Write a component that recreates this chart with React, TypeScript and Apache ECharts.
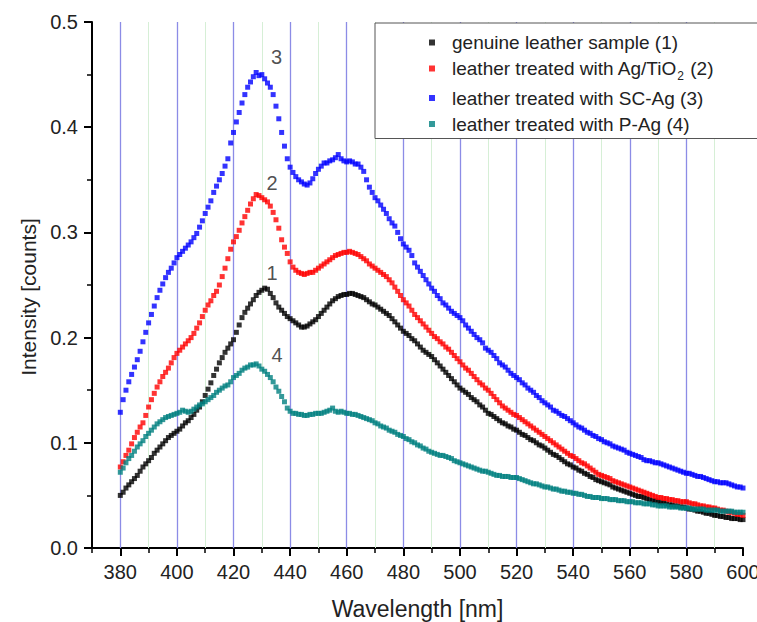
import React, { useEffect, useRef } from "react";
import * as echarts from "echarts";

// Wavelength axis (nm), 1 nm steps from 380 to 600
const wavelengthStart = 380;
const wavelengthStep = 1;

// genuine leather sample (1)
const sample1 = [
  0.050, 0.053, 0.057, 0.060, 0.063, 0.066, 0.069, 0.073, 0.077, 0.080,
  0.083, 0.086, 0.090, 0.093, 0.096, 0.099, 0.102, 0.105, 0.107, 0.109,
  0.111, 0.113, 0.116, 0.119, 0.121, 0.124, 0.127, 0.131, 0.134, 0.139,
  0.145, 0.151, 0.157, 0.164, 0.170, 0.176, 0.181, 0.186, 0.190, 0.194,
  0.198, 0.205, 0.212, 0.219, 0.224, 0.228, 0.232, 0.236, 0.240, 0.243,
  0.245, 0.247, 0.246, 0.242, 0.238, 0.233, 0.229, 0.226, 0.223, 0.220,
  0.218, 0.216, 0.214, 0.212, 0.210, 0.210, 0.211, 0.213, 0.215, 0.217,
  0.220, 0.223, 0.226, 0.229, 0.232, 0.235, 0.237, 0.239, 0.240, 0.241,
  0.241, 0.242, 0.242, 0.241, 0.240, 0.239, 0.238, 0.236, 0.234, 0.232,
  0.231, 0.229, 0.227, 0.225, 0.223, 0.221, 0.218, 0.215, 0.212, 0.209,
  0.206, 0.204, 0.202, 0.199, 0.197, 0.194, 0.191, 0.188, 0.186, 0.184,
  0.182, 0.179, 0.176, 0.173, 0.170, 0.167, 0.164, 0.161, 0.158, 0.155,
  0.152, 0.150, 0.148, 0.146, 0.143, 0.141, 0.139, 0.136, 0.134, 0.131,
  0.128, 0.127, 0.125, 0.123, 0.121, 0.119, 0.118, 0.116, 0.115, 0.113,
  0.112, 0.110, 0.108, 0.107, 0.105, 0.103, 0.102, 0.100, 0.098, 0.097,
  0.095, 0.093, 0.091, 0.089, 0.088, 0.086, 0.084, 0.082, 0.080, 0.079,
  0.077, 0.076, 0.074, 0.073, 0.071, 0.070, 0.068, 0.067, 0.065, 0.064,
  0.063, 0.062, 0.061, 0.060, 0.058, 0.057, 0.056, 0.055, 0.054, 0.053,
  0.052, 0.051, 0.050, 0.049, 0.049, 0.048, 0.047, 0.046, 0.045, 0.045,
  0.044, 0.043, 0.043, 0.042, 0.041, 0.041, 0.040, 0.040, 0.039, 0.039,
  0.038, 0.037, 0.037, 0.036, 0.035, 0.035, 0.034, 0.033, 0.033, 0.032,
  0.031, 0.031, 0.030, 0.030, 0.029, 0.029, 0.028, 0.028, 0.028, 0.027,
  0.027,
];

// leather treated with Ag/TiO2 (2)
const sample2 = [
  0.077, 0.082, 0.088, 0.093, 0.099, 0.105, 0.110, 0.115, 0.119, 0.126,
  0.134, 0.141, 0.147, 0.153, 0.158, 0.163, 0.167, 0.171, 0.176, 0.181,
  0.185, 0.188, 0.191, 0.194, 0.197, 0.200, 0.204, 0.209, 0.214, 0.220,
  0.226, 0.231, 0.235, 0.240, 0.244, 0.250, 0.258, 0.266, 0.275, 0.284,
  0.291, 0.296, 0.302, 0.309, 0.315, 0.321, 0.327, 0.332, 0.336, 0.335,
  0.333, 0.331, 0.329, 0.325, 0.319, 0.312, 0.304, 0.293, 0.286, 0.280,
  0.272, 0.267, 0.264, 0.262, 0.261, 0.260, 0.261, 0.262, 0.262, 0.264,
  0.266, 0.268, 0.270, 0.272, 0.274, 0.276, 0.278, 0.279, 0.280, 0.281,
  0.281, 0.282, 0.281, 0.280, 0.279, 0.277, 0.275, 0.273, 0.270, 0.268,
  0.266, 0.264, 0.262, 0.260, 0.258, 0.255, 0.252, 0.248, 0.244, 0.240,
  0.236, 0.233, 0.230, 0.226, 0.222, 0.219, 0.216, 0.213, 0.210, 0.207,
  0.204, 0.201, 0.199, 0.196, 0.194, 0.191, 0.189, 0.186, 0.183, 0.180,
  0.177, 0.174, 0.171, 0.169, 0.166, 0.163, 0.160, 0.157, 0.155, 0.152,
  0.150, 0.147, 0.144, 0.141, 0.138, 0.135, 0.133, 0.131, 0.129, 0.127,
  0.126, 0.124, 0.122, 0.120, 0.118, 0.116, 0.114, 0.112, 0.110, 0.108,
  0.106, 0.104, 0.102, 0.100, 0.098, 0.096, 0.094, 0.092, 0.090, 0.088,
  0.087, 0.085, 0.083, 0.081, 0.080, 0.078, 0.076, 0.074, 0.072, 0.070,
  0.069, 0.068, 0.067, 0.066, 0.064, 0.063, 0.062, 0.061, 0.060, 0.059,
  0.058, 0.057, 0.056, 0.055, 0.054, 0.053, 0.052, 0.051, 0.050, 0.049,
  0.048, 0.048, 0.047, 0.047, 0.046, 0.046, 0.045, 0.045, 0.044, 0.044,
  0.044, 0.043, 0.042, 0.042, 0.041, 0.040, 0.040, 0.039, 0.039, 0.038,
  0.038, 0.037, 0.036, 0.036, 0.035, 0.034, 0.034, 0.033, 0.032, 0.032,
  0.031,
];

// leather treated with SC-Ag (3)
const sample3 = [
  0.129, 0.141, 0.150, 0.158, 0.165, 0.172, 0.179, 0.187, 0.196, 0.205,
  0.214, 0.222, 0.230, 0.238, 0.245, 0.251, 0.257, 0.262, 0.266, 0.271,
  0.276, 0.279, 0.282, 0.285, 0.288, 0.291, 0.295, 0.299, 0.305, 0.311,
  0.318, 0.324, 0.330, 0.338, 0.344, 0.350, 0.356, 0.363, 0.370, 0.385,
  0.395, 0.405, 0.414, 0.423, 0.431, 0.438, 0.443, 0.448, 0.452, 0.449,
  0.450, 0.446, 0.442, 0.438, 0.431, 0.420, 0.408, 0.395, 0.382, 0.370,
  0.362, 0.357, 0.353, 0.350, 0.348, 0.346, 0.345, 0.347, 0.351, 0.356,
  0.360, 0.363, 0.366, 0.366, 0.368, 0.369, 0.371, 0.374, 0.370, 0.368,
  0.367, 0.368, 0.367, 0.365, 0.365, 0.362, 0.358, 0.350, 0.343, 0.338,
  0.333, 0.330, 0.326, 0.322, 0.318, 0.313, 0.309, 0.306, 0.300, 0.294,
  0.289, 0.286, 0.283, 0.278, 0.271, 0.267, 0.263, 0.259, 0.255, 0.251,
  0.247, 0.244, 0.240, 0.237, 0.233, 0.231, 0.228, 0.225, 0.223, 0.221,
  0.219, 0.216, 0.212, 0.209, 0.206, 0.203, 0.200, 0.198, 0.195, 0.190,
  0.188, 0.186, 0.183, 0.180, 0.176, 0.174, 0.172, 0.169, 0.166, 0.164,
  0.162, 0.160, 0.157, 0.155, 0.152, 0.150, 0.148, 0.145, 0.143, 0.140,
  0.138, 0.136, 0.134, 0.131, 0.130, 0.128, 0.126, 0.125, 0.123, 0.121,
  0.119, 0.117, 0.115, 0.114, 0.112, 0.110, 0.109, 0.107, 0.106, 0.104,
  0.103, 0.101, 0.100, 0.099, 0.097, 0.096, 0.095, 0.094, 0.093, 0.091,
  0.090, 0.089, 0.088, 0.087, 0.086, 0.084, 0.083, 0.083, 0.082, 0.081,
  0.081, 0.080, 0.079, 0.078, 0.077, 0.076, 0.075, 0.074, 0.073, 0.072,
  0.071, 0.071, 0.070, 0.069, 0.068, 0.068, 0.067, 0.066, 0.065, 0.064,
  0.063, 0.063, 0.062, 0.062, 0.062, 0.061, 0.060, 0.059, 0.058, 0.058,
  0.057,
];

// leather treated with P-Ag (4)
const sample4 = [
  0.072, 0.076, 0.081, 0.085, 0.088, 0.092, 0.096, 0.099, 0.102, 0.106,
  0.109, 0.112, 0.115, 0.118, 0.120, 0.122, 0.124, 0.125, 0.126, 0.127,
  0.128, 0.129, 0.131, 0.130, 0.129, 0.130, 0.132, 0.134, 0.136, 0.137,
  0.139, 0.141, 0.143, 0.145, 0.148, 0.150, 0.152, 0.154, 0.155, 0.158,
  0.162, 0.164, 0.166, 0.169, 0.171, 0.172, 0.174, 0.174, 0.175, 0.173,
  0.170, 0.168, 0.165, 0.162, 0.158, 0.153, 0.149, 0.144, 0.139, 0.133,
  0.130, 0.128, 0.128, 0.127, 0.127, 0.126, 0.126, 0.127, 0.127, 0.128,
  0.128, 0.128, 0.129, 0.130, 0.131, 0.133, 0.130, 0.129, 0.130, 0.129,
  0.128, 0.128, 0.127, 0.127, 0.126, 0.125, 0.124, 0.123, 0.122, 0.121,
  0.119, 0.118, 0.116, 0.115, 0.114, 0.112, 0.111, 0.110, 0.108, 0.107,
  0.106, 0.104, 0.103, 0.101, 0.100, 0.098, 0.097, 0.095, 0.094, 0.092,
  0.091, 0.090, 0.089, 0.088, 0.088, 0.087, 0.086, 0.085, 0.083, 0.082,
  0.081, 0.080, 0.079, 0.078, 0.077, 0.076, 0.075, 0.074, 0.073, 0.073,
  0.072, 0.071, 0.070, 0.069, 0.069, 0.068, 0.068, 0.068, 0.067, 0.067,
  0.067, 0.066, 0.065, 0.064, 0.063, 0.062, 0.061, 0.061, 0.060, 0.059,
  0.058, 0.058, 0.057, 0.056, 0.056, 0.055, 0.054, 0.054, 0.053, 0.053,
  0.052, 0.052, 0.051, 0.051, 0.050, 0.049, 0.049, 0.048, 0.048, 0.048,
  0.047, 0.047, 0.047, 0.046, 0.046, 0.046, 0.045, 0.045, 0.045, 0.044,
  0.044, 0.044, 0.043, 0.043, 0.043, 0.042, 0.042, 0.042, 0.041, 0.041,
  0.040, 0.040, 0.040, 0.040, 0.039, 0.039, 0.039, 0.039, 0.038, 0.038,
  0.038, 0.038, 0.037, 0.037, 0.037, 0.037, 0.037, 0.036, 0.036, 0.036,
  0.036, 0.036, 0.035, 0.035, 0.035, 0.035, 0.035, 0.034, 0.034, 0.034,
  0.034,
];

const seriesNames = [
  "genuine leather sample (1)",
  "leather treated with Ag/TiO2 (2)",
  "leather treated with SC-Ag (3)",
  "leather treated with P-Ag (4)",
];
const seriesColors = ["#000000", "#ff0000", "#0000ff", "#008080"];

// Axis ticks / labels
const xMin = 370;
const xMax = 600;
const xLabelTicks = [380, 400, 420, 440, 460, 480, 500, 520, 540, 560, 580, 600];
const xMajorGrid = [380, 400, 420, 440, 460, 480, 500, 520, 540, 560, 580];
const xMinorGrid = [390, 410, 430, 450, 470, 490, 510, 530, 550, 570, 590];

// Curve number annotations: [label, wavelength, intensity]
const curveLabels: [string, number, number][] = [
  ["1", 433.6, 0.261],
  ["2", 433.6, 0.347],
  ["3", 435.2, 0.467],
  ["4", 435.4, 0.183],
];

const FONT = "'Liberation Sans', Arial, sans-serif";

function toPairs(values: number[]) {
  return values.map((v, i) => [wavelengthStart + i * wavelengthStep, v]);
}

export default function App() {
  const ref = useRef<HTMLDivElement>(null);

  useEffect(() => {
    if (!ref.current) return;
    const chart = echarts.init(ref.current, undefined, { renderer: "svg" });
    const allSeries = [sample1, sample2, sample3, sample4];

    const option: any = {
      animation: false,
      backgroundColor: "#ffffff",
      textStyle: { fontFamily: FONT },
      grid: {
        left: 92,
        right: 14,
        top: 22,
        bottom: 74,
        containLabel: false,
        outerBoundsMode: "none",
      },
      legend: {
        orient: "vertical",
        left: 375,
        top: 23,
        z: 20,
        padding: [10, 53, 5, 54],
        itemWidth: 6,
        itemHeight: 6,
        itemGap: 7,
        icon: "rect",
        backgroundColor: "#ffffff",
        borderColor: "#555555",
        borderWidth: 1,
        data: seriesNames,
        formatter: (name: string) =>
          name === seriesNames[1] ? "leather treated with Ag/TiO{sub|2} (2)" : name,
        textStyle: {
          fontFamily: FONT,
          fontSize: 19,
          color: "#222222",
          padding: [0, 0, 0, 12],
          rich: {
            sub: { fontFamily: FONT, fontSize: 12, color: "#222222", padding: [14, 1, 0, 0] },
          },
        },
      },
      xAxis: [
        {
          type: "value",
          min: xMin,
          max: xMax,
          position: "bottom",
          name: "Wavelength [nm]",
          nameLocation: "middle",
          nameGap: 49,
          nameTextStyle: { fontFamily: FONT, fontSize: 23, color: "#222222" },
          axisLine: { show: true, onZero: false, lineStyle: { color: "#000", width: 2 } },
          axisTick: {
            show: true,
            customValues: xLabelTicks,
            length: 8,
            lineStyle: { color: "#000", width: 2 },
          },
          axisLabel: {
            customValues: xLabelTicks,
            fontFamily: FONT,
            fontSize: 20,
            color: "#222222",
            margin: 14,
          },
          splitLine: { show: false },
        },
        {
          type: "value",
          min: xMin,
          max: xMax,
          interval: 10,
          position: "bottom",
          axisLine: { show: false, onZero: false },
          axisTick: { show: true, length: 5, lineStyle: { color: "#000", width: 1.5 } },
          axisLabel: { show: false },
          splitLine: { show: false },
        },
      ],
      yAxis: {
        type: "value",
        min: 0,
        max: 0.5,
        interval: 0.1,
        axisLine: { show: true, onZero: false, lineStyle: { color: "#000", width: 2 } },
        axisTick: { show: true, length: 8, lineStyle: { color: "#000", width: 2 } },
        minorTick: { show: true, splitNumber: 2, length: 5, lineStyle: { color: "#000", width: 1.5 } },
        axisLabel: {
          fontFamily: FONT,
          fontSize: 20,
          color: "#222222",
          margin: 14,
          formatter: (v: number) => v.toFixed(1),
        },
        splitLine: { show: false },
      },
      graphic: [
        {
          type: "text",
          x: 28,
          y: 297,
          rotation: Math.PI / 2,
          style: {
            text: "Intensity [counts]",
            fontFamily: FONT,
            fontSize: 21,
            fill: "#222222",
            align: "center",
            verticalAlign: "middle",
          },
        },
      ],
      series: [
        {
          type: "line",
          name: "__grid",
          data: [],
          silent: true,
          z: 1,
          markLine: {
            silent: true,
            z: 1,
            symbol: ["none", "none"],
            label: { show: false },
            animation: false,
            data: [
              ...xMinorGrid.map((v) => ({ xAxis: v, lineStyle: { color: "#d6efd6", width: 1, type: "solid" } })),
              ...xMajorGrid.map((v) => ({ xAxis: v, lineStyle: { color: "#8c8ce6", width: 1.3, type: "solid" } })),
            ],
          },
        },
        ...allSeries.map((vals, i) => ({
          type: "scatter",
          name: seriesNames[i],
          data: toPairs(vals),
          symbol: "rect",
          symbolSize: 5,
          itemStyle: { color: seriesColors[i] },
          z: 3,
        })),
        {
          type: "scatter",
          name: "__labels",
          data: curveLabels.map(([t, x, y]) => ({ value: [x, y], label: { formatter: t } })),
          symbolSize: 0,
          silent: true,
          z: 4,
          label: {
            show: true,
            position: "inside",
            fontFamily: FONT,
            fontSize: 20,
            color: "#222222",
          },
        },
      ],
    };

    chart.setOption(option);
    return () => chart.dispose();
  }, []);

  return (
    <div
      ref={ref}
      style={{ position: "fixed", left: 0, top: 0, width: 757, height: 622, background: "#fff" }}
    />
  );
}
